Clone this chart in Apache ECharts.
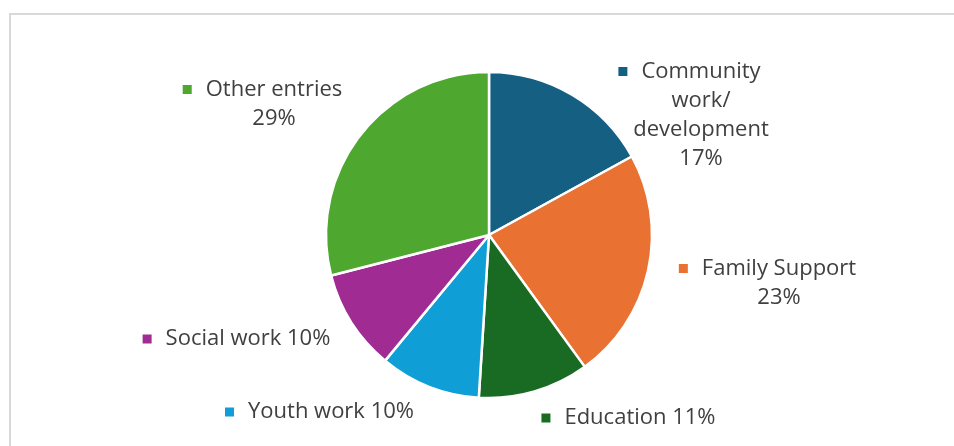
<!DOCTYPE html>
<html>
<head>
<meta charset="utf-8">
<script src="https://cdn.jsdelivr.net/npm/echarts@6/dist/echarts.min.js"></script>
<style>
  html, body { margin: 0; padding: 0; background: #fff; }
  #chart { width: 954px; height: 446px; }
</style>
</head>
<body>
<div id="chart"></div>
<script>
// slices, clockwise from 12 o'clock
const categories = ['Community\nwork/\ndevelopment', 'Family Support', 'Education', 'Youth work', 'Social work', 'Other entries'];
const values = [17, 23, 11, 10, 10, 29];
const colors = ['#156082', '#E97132', '#196B24', '#0F9ED5', '#A02B93', '#4EA72E'];
// whether the percentage goes on its own line
const pctOnNewLine = [true, true, false, false, false, true];

// label anchor spots (text centre x, block centre y)
const labelSpots = [[701, 115], [779, 283], [640, 418], [331, 412], [248, 339], [274, 104]];

const rich = {
  sp: { width: 23, height: 9 }
};
colors.forEach((c, i) => {
  rich['m' + i] = { backgroundColor: c, width: 9, height: 9, verticalAlign: 'middle' };
});
rich.gap = { width: 14, height: 9 };

const chart = echarts.init(document.getElementById('chart'));

chart.setOption({
  animation: false,
  graphic: [{
    type: 'rect',
    shape: { x: 10, y: 14, width: 1000, height: 500 },
    style: { fill: 'none', stroke: '#d9d9d9', lineWidth: 2 },
    silent: true
  }],
  series: [{
    type: 'pie',
    center: [489, 235],
    radius: 163,
    startAngle: 90,
    clockwise: true,
    data: categories.map((name, i) => ({ name: name, value: values[i], itemStyle: { color: colors[i] } })),
    itemStyle: { borderColor: '#fff', borderWidth: 2.5 },
    label: {
      show: true,
      position: 'outside',
      color: '#404040',
      fontFamily: 'Open Sans',
      fontSize: 22,
      lineHeight: 29,
      align: 'center',
      rich: rich,
      formatter: function (p) {
        const i = p.dataIndex;
        const lines = p.name.split('\n');
        const pct = p.value + '%';
        if (pctOnNewLine[i]) lines.push(pct);
        else lines[lines.length - 1] += ' ' + pct;
        lines[0] = '{m' + i + '| }{gap| }' + lines[0] + '{sp| }';
        return lines.join('\n');
      }
    },
    labelLine: { show: false },
    labelLayout: function (p) {
      const s = labelSpots[p.dataIndex];
      return { x: s[0], y: s[1], align: 'center', verticalAlign: 'middle', hideOverlap: false };
    }
  }]
});
</script>
</body>
</html>
